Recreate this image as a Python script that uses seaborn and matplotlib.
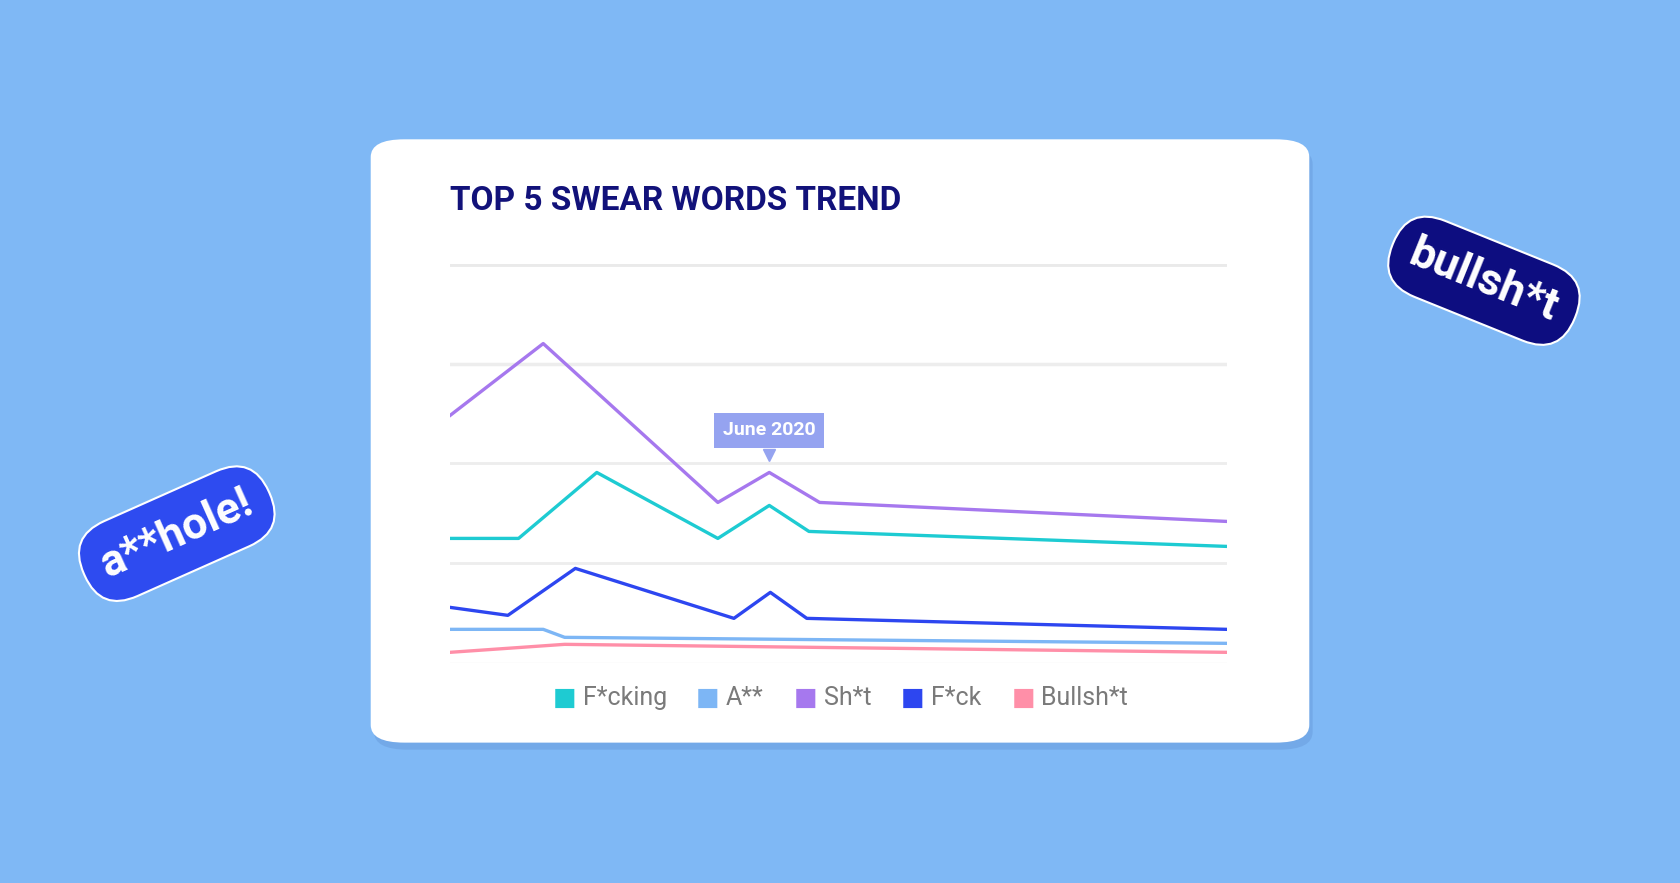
import matplotlib
matplotlib.use("Agg")
import matplotlib.pyplot as plt
from matplotlib.patches import FancyBboxPatch
import seaborn as sns
import pandas as pd

series = ["F*cking", "A**", "Sh*t", "F*ck", "Bullsh*t"]
colors = ["#1ECBD2", "#7DB6F5", "#A678EE", "#2D46F0", "#FF8FA8"]
x_fcking = [0, 64, 137, 250, 298, 335, 725]
y_fcking = [1.25, 1.25, 1.91, 1.25, 1.58, 1.32, 1.17]
x_ass = [0, 87, 107, 725]
y_ass = [0.34, 0.34, 0.26, 0.20]
x_shit = [0, 87, 250, 298, 345, 725]
y_shit = [2.48, 3.20, 1.61, 1.91, 1.61, 1.42]
x_fck = [0, 54, 117, 265, 299, 333, 725]
y_fck = [0.56, 0.48, 0.95, 0.45, 0.71, 0.45, 0.34]
x_bs = [0, 107, 725]
y_bs = [0.11, 0.19, 0.11]

rows = []
for name, xs, ys in zip(series, [x_fcking, x_ass, x_shit, x_fck, x_bs],
                        [y_fcking, y_ass, y_shit, y_fck, y_bs]):
    for x, y in zip(xs, ys):
        rows.append({"t": x, "v": y, "word": name})
df = pd.DataFrame(rows)

W, H = 1568, 824
fig = plt.figure(figsize=(16.8, 8.83), dpi=100)
fig.patch.set_facecolor("#7FB8F5")

# card with shadow
sh = FancyBboxPatch((346/W+0.002, 1-693/H-0.008), (1222-346)/W, (693-130)/H,
                    boxstyle="round,pad=0,rounding_size=0.02", transform=fig.transFigure,
                    facecolor="#5E8FD0", edgecolor="none", alpha=0.35, zorder=0)
card = FancyBboxPatch((346/W, 1-693/H), (1222-346)/W, (693-130)/H,
                      boxstyle="round,pad=0,rounding_size=0.02", transform=fig.transFigure,
                      facecolor="white", edgecolor="none", zorder=1)
fig.patches.extend([sh, card])

ax = fig.add_axes([420/W, 1-619/H, (1145-420)/W, (619-246)/H])
ax.set_facecolor("none")
ax.set_zorder(2)
for g, lw, c in [(1, 2, "#EDEDED"), (2, 2, "#EDEDED"), (3, 2.5, "#EDEDED"), (4, 3.5, "#EAEAEA"), (0, 1, "#F3F3F3")]:
    ax.axhline(g, color=c, lw=lw, zorder=0)
sns.lineplot(data=df, x="t", y="v", hue="word", hue_order=series, palette=colors,
             lw=2.4, ax=ax, legend=False, estimator=None, sort=False)
ax.set_xlim(0, 725)
ax.set_ylim(0, 4)
ax.axis("off")

fig.text(420/W, 1-188/H, "TOP 5 SWEAR WORDS TREND", fontsize=24, fontweight="bold",
         color="#12127A", va="center", ha="left", zorder=3, family="Roboto")

# tooltip
ax.annotate("June 2020", xy=(298, 1.91), xytext=(298, 2.33), ha="center", va="center",
            fontsize=14, fontweight="bold", color="white", family="Roboto",
            bbox=dict(boxstyle="square,pad=0.45", fc="#95A3F0", ec="none"))
ax.plot([298], [1.9 + 0.18], marker="v", color="#95A3F0", ms=8)

# legend
xs_leg = [516, 649, 741, 841, 944]
for name, c, xl in zip(series, colors, xs_leg):
    fig.text(xl/W, 1-651/H, "\u25A0", color=c, fontsize=18, va="center", ha="left", zorder=3)
    fig.text((xl+28)/W, 1-651/H, name, color="#7A7A7A", fontsize=18, va="center",
             ha="left", zorder=3, family="Roboto")

# stickers
fig.text(165/W, 1-498/H, "a**hole!", rotation=24, fontsize=32, fontweight="bold",
         color="white", ha="center", va="center", family="Roboto",
         bbox=dict(boxstyle="round,pad=0.45,rounding_size=0.9", fc="#2E4BF0", ec="white", lw=1.5))
fig.text(1385/W, 1-262/H, "bullsh*t", rotation=-22, fontsize=32, fontweight="bold",
         color="white", ha="center", va="center", family="Roboto",
         bbox=dict(boxstyle="round,pad=0.45,rounding_size=0.9", fc="#0D0D80", ec="white", lw=1.5))

fig.savefig("out.png", dpi=100, facecolor=fig.get_facecolor())
